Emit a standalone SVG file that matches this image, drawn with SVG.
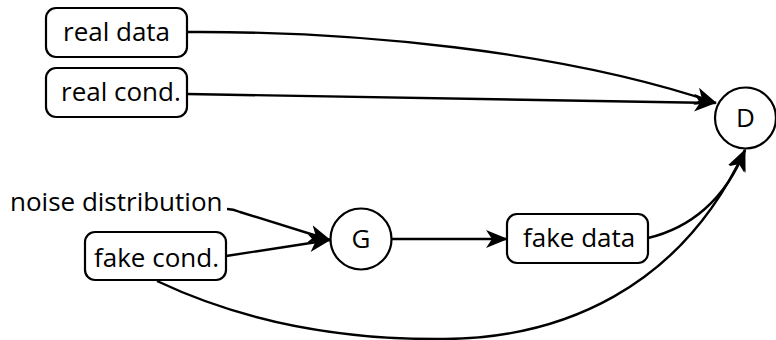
<svg xmlns="http://www.w3.org/2000/svg" width="776" height="340" viewBox="0 0 776 340">
<style>
.box{fill:#fff;stroke:#000;stroke-width:2.2}
.lbl{font-family:"Open Sans","Liberation Sans",sans-serif;font-size:26px;fill:#000}
.edge{fill:none;stroke:#000;stroke-width:2.4}
</style>
<defs>
<marker id="arr" markerUnits="userSpaceOnUse" viewBox="0 0 22 20" refX="21" refY="10" markerWidth="22" markerHeight="20" orient="auto">
<path d="M0,1 L22,10 L0,19 L6,10 Z" fill="#000"/>
</marker>
</defs>
<rect width="776" height="340" fill="#fff"/>
<g id="edges">
<path class="edge" d="M187,32 C350,31 560,50 716,103" marker-end="url(#arr)"/>
<path class="edge" d="M187,94 L715,103" marker-end="url(#arr)"/>
<path class="edge" d="M227,209 Q233,209 240,212 L330,240" marker-end="url(#arr)"/>
<path class="edge" d="M226,256 L330,240" marker-end="url(#arr)"/>
<path class="edge" d="M392,239 L507,239" marker-end="url(#arr)"/>
<path class="edge" d="M648,238 C690,228 725,200 745,150" marker-end="url(#arr)"/>
<path class="edge" d="M157,281 C250,325 350,340 445,339 C560,338 680,290 745,150" marker-end="url(#arr)"/>
</g>
<g id="real_data">
<rect class="box" x="46" y="8" width="141" height="49" rx="10"/>
<text class="lbl" x="63" y="41">real data</text>
</g>
<g id="real_cond">
<rect class="box" x="46" y="68" width="141" height="49" rx="10"/>
<text class="lbl" x="61" y="101">real cond.</text>
</g>
<g id="noise">
<text class="lbl" x="10" y="211">noise distribution</text>
</g>
<g id="fake_cond">
<rect class="box" x="85" y="232" width="141" height="48" rx="10"/>
<text class="lbl" x="94" y="267">fake cond.</text>
</g>
<g id="G">
<circle class="box" cx="361" cy="239" r="30.5"/>
<text class="lbl" x="361" y="248" text-anchor="middle">G</text>
</g>
<g id="fake_data">
<rect class="box" x="507" y="214" width="141" height="49" rx="10"/>
<text class="lbl" x="523" y="247">fake data</text>
</g>
<g id="D">
<circle class="box" cx="745.5" cy="118" r="30.5"/>
<text class="lbl" x="745.5" y="127" text-anchor="middle">D</text>
</g>
</svg>
